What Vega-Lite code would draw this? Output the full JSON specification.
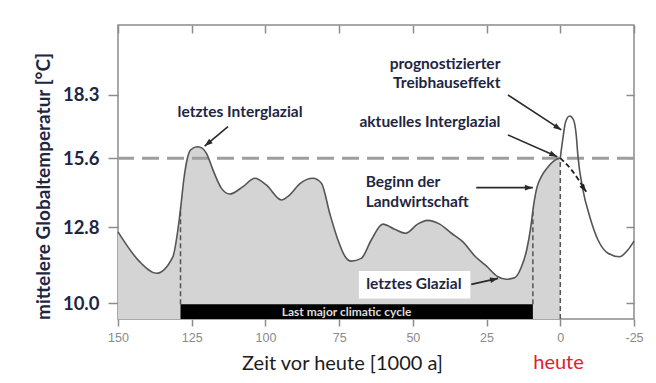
{
  "$schema": "https://vega.github.io/schema/vega-lite/v6.json",
  "width": 516,
  "height": 294,
  "autosize": {"type": "none"},
  "padding": {"left": 118, "top": 25, "right": 22, "bottom": 64},
  "background": "white",
  "config": {
    "view": {"stroke": "#8c8c8c", "strokeWidth": 1.5},
    "axis": {"grid": false, "domain": false, "tickColor": "#8c8c8c", "tickWidth": 1.5}
  },
  "datasets": {
    "past": [
      {"ka": 150, "temp": 12.63}, {"ka": 142.6, "temp": 11.52}, {"ka": 137.0, "temp": 11.10}, {"ka": 131.4, "temp": 11.71},
      {"ka": 129.7, "temp": 12.70}, {"ka": 128.7, "temp": 13.64}, {"ka": 127.7, "temp": 14.72}, {"ka": 126.6, "temp": 15.53},
      {"ka": 125.4, "temp": 15.95}, {"ka": 123.2, "temp": 16.09}, {"ka": 121.6, "temp": 16.04}, {"ka": 120.0, "temp": 15.81},
      {"ka": 117.8, "temp": 15.13}, {"ka": 114.9, "temp": 14.38}, {"ka": 112.1, "temp": 14.15}, {"ka": 107.6, "temp": 14.45},
      {"ka": 103.6, "temp": 14.79}, {"ka": 99.7, "temp": 14.52}, {"ka": 94.6, "temp": 13.91}, {"ka": 91.8, "temp": 14.11},
      {"ka": 88.4, "temp": 14.56}, {"ka": 83.9, "temp": 14.79}, {"ka": 81.0, "temp": 14.59}, {"ka": 78.2, "temp": 13.37},
      {"ka": 75.4, "temp": 12.33}, {"ka": 73.1, "temp": 11.74}, {"ka": 70.9, "temp": 11.55}, {"ka": 67.5, "temp": 11.65},
      {"ka": 64.1, "temp": 12.33}, {"ka": 60.2, "temp": 12.93}, {"ka": 56.2, "temp": 12.73}, {"ka": 52.4, "temp": 12.58},
      {"ka": 48.4, "temp": 12.93}, {"ka": 45.0, "temp": 13.08}, {"ka": 40.9, "temp": 12.93}, {"ka": 36.9, "temp": 12.58},
      {"ka": 33.0, "temp": 12.26}, {"ka": 29.0, "temp": 11.74}, {"ka": 25.1, "temp": 11.37}, {"ka": 21.3, "temp": 10.98},
      {"ka": 18.3, "temp": 10.88}, {"ka": 15.5, "temp": 10.93}, {"ka": 13.2, "temp": 11.33}, {"ka": 11.4, "temp": 11.96},
      {"ka": 10.05, "temp": 12.78}, {"ka": 9.04, "temp": 13.7}, {"ka": 7.92, "temp": 14.42}, {"ka": 6.33, "temp": 14.88},
      {"ka": 4.19, "temp": 15.25}, {"ka": 2.26, "temp": 15.49}, {"ka": 0, "temp": 15.61}
    ],
    "future": [
      {"ka": 0, "temp": 15.61}, {"ka": -0.8, "temp": 16.37}, {"ka": -1.8, "temp": 17.14}, {"ka": -3.2, "temp": 17.39},
      {"ka": -4.5, "temp": 17.22}, {"ka": -5.4, "temp": 16.59}, {"ka": -6.0, "temp": 15.67}, {"ka": -7.7, "temp": 14.31},
      {"ka": -10.0, "temp": 13.23}, {"ka": -12.8, "temp": 12.33}, {"ka": -16.2, "temp": 11.84}, {"ka": -20.1, "temp": 11.71},
      {"ka": -22.9, "temp": 11.96}, {"ka": -25, "temp": 12.29}
    ],
    "projection": [
      {"ka": 0, "temp": 15.61}, {"ka": -3.8, "temp": 15.13}, {"ka": -8.8, "temp": 14.24}
    ],
    "arrows": [
      {"ka": 112.7, "temp": 16.94, "ka2": 120.6, "temp2": 16.12},
      {"ka": 17.75, "temp": 18.28, "ka2": -0.36, "temp2": 16.8},
      {"ka": 17.75, "temp": 16.59, "ka2": 1.0, "temp2": 15.67},
      {"ka": 28.5, "temp": 14.41, "ka2": 9.3, "temp2": 14.41},
      {"ka": 30.2, "temp": 10.69, "ka2": 21.1, "temp2": 10.91}
    ]
  },
  "resolve": {"axis": {"x": "independent", "y": "independent"}},
  "layer": [
    {
      "data": {"name": "past"},
      "mark": {"type": "area", "color": "#d4d4d4", "interpolate": "monotone"},
      "encoding": {
        "x": {"field": "ka", "type": "quantitative", "scale": {"domain": [150, -25], "nice": false, "zero": false},
          "axis": {"orient": "bottom", "values": [150, 125, 100, 75, 50, 25, 0, -25], "tickSize": 7,
            "labelExpr": "datum.value < 0 ? '-' + abs(datum.value) : '' + datum.value",
            "labelFont": "Liberation Sans", "labelFontSize": 12.5, "labelColor": "#8a8a8a", "labelPadding": 5,
            "labelFlush": false, "labelOverlap": false,
            "title": "Zeit vor heute [1000 a]", "titleFont": "Lato", "titleFontSize": 20, "titleFontWeight": "normal",
            "titleColor": "#1c1c1c", "titleX": 224, "titleY": 44, "titleBaseline": "middle", "titleAlign": "center"}},
        "y": {"field": "temp", "type": "quantitative",
          "scale": {"domain": [9.41, 10, 12.8, 15.6, 18.3, 21.24], "range": [294, 278, 202.3, 133.3, 69.5, 0], "nice": false, "zero": false},
          "axis": {"orient": "left", "values": [10, 12.8, 15.6, 18.3], "format": ".1f", "tickSize": 10,
            "labelFont": "Lato", "labelFontSize": 18.5, "labelFontWeight": "bold", "labelColor": "#1e2642", "labelPadding": 9,
            "title": "mittelere Globaltemperatur [°C]", "titleFont": "Lato", "titleFontSize": 19, "titleFontWeight": "bold",
            "titleColor": "#1e2642", "titleAngle": -90, "titleX": -75, "titleY": 161, "titleAlign": "center", "titleBaseline": "middle"}},
        "y2": {"datum": 9.41}
      }
    },
    {
      "data": {"values": [{"temp": 15.6}]},
      "mark": {"type": "rule", "color": "#9e9e9e", "strokeWidth": 3, "strokeDash": [17, 8]},
      "encoding": {
        "y": {"field": "temp", "type": "quantitative", "axis": null,
          "scale": {"domain": [9.41, 10, 12.8, 15.6, 18.3, 21.24], "range": [294, 278, 202.3, 133.3, 69.5, 0], "nice": false, "zero": false}}
      }
    },
    {
      "data": {"values": [
        {"ka": 128.8, "temp": 9.95, "temp2": 13.6},
        {"ka": 9.3, "temp": 9.95, "temp2": 13.5},
        {"ka": 0, "temp": 9.41, "temp2": 15.6}
      ]},
      "mark": {"type": "rule", "color": "#555555", "strokeWidth": 1.5, "strokeDash": [5, 3]},
      "encoding": {
        "x": {"field": "ka", "type": "quantitative", "axis": null, "scale": {"domain": [150, -25], "nice": false, "zero": false}},
        "y": {"field": "temp", "type": "quantitative", "axis": null,
          "scale": {"domain": [9.41, 10, 12.8, 15.6, 18.3, 21.24], "range": [294, 278, 202.3, 133.3, 69.5, 0], "nice": false, "zero": false}},
        "y2": {"field": "temp2"}
      }
    },
    {
      "data": {"values": [{"ka": 128.8, "ka2": 9.3, "temp": 9.41, "temp2": 9.95}]},
      "mark": {"type": "rect", "color": "#000000"},
      "encoding": {
        "x": {"field": "ka", "type": "quantitative", "axis": null, "scale": {"domain": [150, -25], "nice": false, "zero": false}},
        "x2": {"field": "ka2"},
        "y": {"field": "temp", "type": "quantitative", "axis": null,
          "scale": {"domain": [9.41, 10, 12.8, 15.6, 18.3, 21.24], "range": [294, 278, 202.3, 133.3, 69.5, 0], "nice": false, "zero": false}},
        "y2": {"field": "temp2"}
      }
    },
    {
      "data": {"values": [{"ka": 72.5, "temp": 9.68, "label": "Last major climatic cycle"}]},
      "mark": {"type": "text", "font": "Lato", "fontSize": 12, "fontWeight": "bold", "color": "#dddddd", "align": "center", "baseline": "middle"},
      "encoding": {
        "x": {"field": "ka", "type": "quantitative", "axis": null, "scale": {"domain": [150, -25], "nice": false, "zero": false}},
        "y": {"field": "temp", "type": "quantitative", "axis": null,
          "scale": {"domain": [9.41, 10, 12.8, 15.6, 18.3, 21.24], "range": [294, 278, 202.3, 133.3, 69.5, 0], "nice": false, "zero": false}},
        "text": {"field": "label"}
      }
    },
    {
      "data": {"values": [{"ka": 68.3, "ka2": 30.5, "temp": 10.17, "temp2": 11.18}]},
      "mark": {"type": "rect", "color": "#ffffff"},
      "encoding": {
        "x": {"field": "ka", "type": "quantitative", "axis": null, "scale": {"domain": [150, -25], "nice": false, "zero": false}},
        "x2": {"field": "ka2"},
        "y": {"field": "temp", "type": "quantitative", "axis": null,
          "scale": {"domain": [9.41, 10, 12.8, 15.6, 18.3, 21.24], "range": [294, 278, 202.3, 133.3, 69.5, 0], "nice": false, "zero": false}},
        "y2": {"field": "temp2"}
      }
    },
    {
      "data": {"name": "past"},
      "mark": {"type": "line", "color": "#555555", "strokeWidth": 1.6, "interpolate": "monotone"},
      "encoding": {
        "x": {"field": "ka", "type": "quantitative", "scale": {"domain": [150, -25], "nice": false, "zero": false},
          "axis": {"orient": "top", "values": [150, 125, 100, 75, 50, 25, 0, -25], "tickSize": -8, "labels": false, "title": null}},
        "y": {"field": "temp", "type": "quantitative",
          "scale": {"domain": [9.41, 10, 12.8, 15.6, 18.3, 21.24], "range": [294, 278, 202.3, 133.3, 69.5, 0], "nice": false, "zero": false},
          "axis": {"orient": "right", "values": [10, 12.8, 15.6, 18.3], "tickSize": -8, "labels": false, "title": null}}
      }
    },
    {
      "data": {"name": "future"},
      "mark": {"type": "line", "color": "#555555", "strokeWidth": 1.6, "interpolate": "monotone"},
      "encoding": {
        "x": {"field": "ka", "type": "quantitative", "axis": null, "scale": {"domain": [150, -25], "nice": false, "zero": false}},
        "y": {"field": "temp", "type": "quantitative", "axis": null,
          "scale": {"domain": [9.41, 10, 12.8, 15.6, 18.3, 21.24], "range": [294, 278, 202.3, 133.3, 69.5, 0], "nice": false, "zero": false}}
      }
    },
    {
      "data": {"name": "projection"},
      "mark": {"type": "line", "color": "#222222", "strokeWidth": 1.8, "strokeDash": [5, 3], "interpolate": "monotone"},
      "encoding": {
        "x": {"field": "ka", "type": "quantitative", "axis": null, "scale": {"domain": [150, -25], "nice": false, "zero": false}},
        "y": {"field": "temp", "type": "quantitative", "axis": null,
          "scale": {"domain": [9.41, 10, 12.8, 15.6, 18.3, 21.24], "range": [294, 278, 202.3, 133.3, 69.5, 0], "nice": false, "zero": false}}
      }
    },
    {
      "data": {"name": "arrows"},
      "mark": {"type": "rule", "color": "#2a2a2a", "strokeWidth": 1.6},
      "encoding": {
        "x": {"field": "ka", "type": "quantitative", "axis": null, "scale": {"domain": [150, -25], "nice": false, "zero": false}},
        "x2": {"field": "ka2"},
        "y": {"field": "temp", "type": "quantitative", "axis": null,
          "scale": {"domain": [9.41, 10, 12.8, 15.6, 18.3, 21.24], "range": [294, 278, 202.3, 133.3, 69.5, 0], "nice": false, "zero": false}},
        "y2": {"field": "temp2"}
      }
    },
    {
      "data": {"values": [{"ka": 120.6, "temp": 16.12}]},
      "mark": {"type": "point", "shape": "M0,0L0.7,2L-0.7,2Z", "filled": true, "opacity": 1, "size": 64, "color": "#2a2a2a", "angle": 231},
      "encoding": {
        "x": {"field": "ka", "type": "quantitative", "axis": null, "scale": {"domain": [150, -25], "nice": false, "zero": false}},
        "y": {"field": "temp", "type": "quantitative", "axis": null,
          "scale": {"domain": [9.41, 10, 12.8, 15.6, 18.3, 21.24], "range": [294, 278, 202.3, 133.3, 69.5, 0], "nice": false, "zero": false}}
      }
    },
    {
      "data": {"values": [{"ka": -0.36, "temp": 16.8}]},
      "mark": {"type": "point", "shape": "M0,0L0.7,2L-0.7,2Z", "filled": true, "opacity": 1, "size": 64, "color": "#2a2a2a", "angle": 123},
      "encoding": {
        "x": {"field": "ka", "type": "quantitative", "axis": null, "scale": {"domain": [150, -25], "nice": false, "zero": false}},
        "y": {"field": "temp", "type": "quantitative", "axis": null,
          "scale": {"domain": [9.41, 10, 12.8, 15.6, 18.3, 21.24], "range": [294, 278, 202.3, 133.3, 69.5, 0], "nice": false, "zero": false}}
      }
    },
    {
      "data": {"values": [{"ka": 1.0, "temp": 15.67}]},
      "mark": {"type": "point", "shape": "M0,0L0.7,2L-0.7,2Z", "filled": true, "opacity": 1, "size": 64, "color": "#2a2a2a", "angle": 114},
      "encoding": {
        "x": {"field": "ka", "type": "quantitative", "axis": null, "scale": {"domain": [150, -25], "nice": false, "zero": false}},
        "y": {"field": "temp", "type": "quantitative", "axis": null,
          "scale": {"domain": [9.41, 10, 12.8, 15.6, 18.3, 21.24], "range": [294, 278, 202.3, 133.3, 69.5, 0], "nice": false, "zero": false}}
      }
    },
    {
      "data": {"values": [{"ka": 9.3, "temp": 14.41}]},
      "mark": {"type": "point", "shape": "M0,0L0.7,2L-0.7,2Z", "filled": true, "opacity": 1, "size": 64, "color": "#2a2a2a", "angle": 90},
      "encoding": {
        "x": {"field": "ka", "type": "quantitative", "axis": null, "scale": {"domain": [150, -25], "nice": false, "zero": false}},
        "y": {"field": "temp", "type": "quantitative", "axis": null,
          "scale": {"domain": [9.41, 10, 12.8, 15.6, 18.3, 21.24], "range": [294, 278, 202.3, 133.3, 69.5, 0], "nice": false, "zero": false}}
      }
    },
    {
      "data": {"values": [{"ka": 21.1, "temp": 10.91}]},
      "mark": {"type": "point", "shape": "M0,0L0.7,2L-0.7,2Z", "filled": true, "opacity": 1, "size": 64, "color": "#2a2a2a", "angle": 77},
      "encoding": {
        "x": {"field": "ka", "type": "quantitative", "axis": null, "scale": {"domain": [150, -25], "nice": false, "zero": false}},
        "y": {"field": "temp", "type": "quantitative", "axis": null,
          "scale": {"domain": [9.41, 10, 12.8, 15.6, 18.3, 21.24], "range": [294, 278, 202.3, 133.3, 69.5, 0], "nice": false, "zero": false}}
      }
    },
    {
      "data": {"values": [{"ka": -8.8, "temp": 14.24}]},
      "mark": {"type": "point", "shape": "M0,0L0.7,2L-0.7,2Z", "filled": true, "opacity": 1, "size": 64, "color": "#222222", "angle": 145},
      "encoding": {
        "x": {"field": "ka", "type": "quantitative", "axis": null, "scale": {"domain": [150, -25], "nice": false, "zero": false}},
        "y": {"field": "temp", "type": "quantitative", "axis": null,
          "scale": {"domain": [9.41, 10, 12.8, 15.6, 18.3, 21.24], "range": [294, 278, 202.3, 133.3, 69.5, 0], "nice": false, "zero": false}}
      }
    },
    {
      "data": {"values": [{"ka": 108.6, "temp": 17.56, "label": "letztes Interglazial"}]},
      "mark": {"type": "text", "font": "Lato", "fontSize": 15.5, "fontWeight": "bold", "color": "#1e2642", "align": "center", "baseline": "middle"},
      "encoding": {
        "x": {"field": "ka", "type": "quantitative", "axis": null, "scale": {"domain": [150, -25], "nice": false, "zero": false}},
        "y": {"field": "temp", "type": "quantitative", "axis": null,
          "scale": {"domain": [9.41, 10, 12.8, 15.6, 18.3, 21.24], "range": [294, 278, 202.3, 133.3, 69.5, 0], "nice": false, "zero": false}},
        "text": {"field": "label"}
      }
    },
    {
      "data": {"values": [
        {"ka": 20.3, "temp": 19.59, "label": "prognostizierter"},
        {"ka": 20.3, "temp": 18.77, "label": "Treibhauseffekt"},
        {"ka": 20.3, "temp": 17.15, "label": "aktuelles Interglazial"}
      ]},
      "mark": {"type": "text", "font": "Lato", "fontSize": 15.5, "fontWeight": "bold", "color": "#1e2642", "align": "right", "baseline": "middle"},
      "encoding": {
        "x": {"field": "ka", "type": "quantitative", "axis": null, "scale": {"domain": [150, -25], "nice": false, "zero": false}},
        "y": {"field": "temp", "type": "quantitative", "axis": null,
          "scale": {"domain": [9.41, 10, 12.8, 15.6, 18.3, 21.24], "range": [294, 278, 202.3, 133.3, 69.5, 0], "nice": false, "zero": false}},
        "text": {"field": "label"}
      }
    },
    {
      "data": {"values": [
        {"ka": 66.0, "temp": 14.65, "label": "Beginn der"},
        {"ka": 66.0, "temp": 13.84, "label": "Landwirtschaft"},
        {"ka": 65.8, "temp": 10.69, "label": "letztes Glazial"}
      ]},
      "mark": {"type": "text", "font": "Lato", "fontSize": 15.5, "fontWeight": "bold", "color": "#1e2642", "align": "left", "baseline": "middle"},
      "encoding": {
        "x": {"field": "ka", "type": "quantitative", "axis": null, "scale": {"domain": [150, -25], "nice": false, "zero": false}},
        "y": {"field": "temp", "type": "quantitative", "axis": null,
          "scale": {"domain": [9.41, 10, 12.8, 15.6, 18.3, 21.24], "range": [294, 278, 202.3, 133.3, 69.5, 0], "nice": false, "zero": false}},
        "text": {"field": "label"}
      }
    },
    {
      "data": {"values": [{"ka": 0.6, "temp": 9.41, "label": "heute"}]},
      "mark": {"type": "text", "font": "Lato", "fontSize": 20, "color": "#e0202e", "align": "center", "baseline": "middle", "dy": 44},
      "encoding": {
        "x": {"field": "ka", "type": "quantitative", "axis": null, "scale": {"domain": [150, -25], "nice": false, "zero": false}},
        "y": {"field": "temp", "type": "quantitative", "axis": null,
          "scale": {"domain": [9.41, 10, 12.8, 15.6, 18.3, 21.24], "range": [294, 278, 202.3, 133.3, 69.5, 0], "nice": false, "zero": false}},
        "text": {"field": "label"}
      }
    }
  ]
}
